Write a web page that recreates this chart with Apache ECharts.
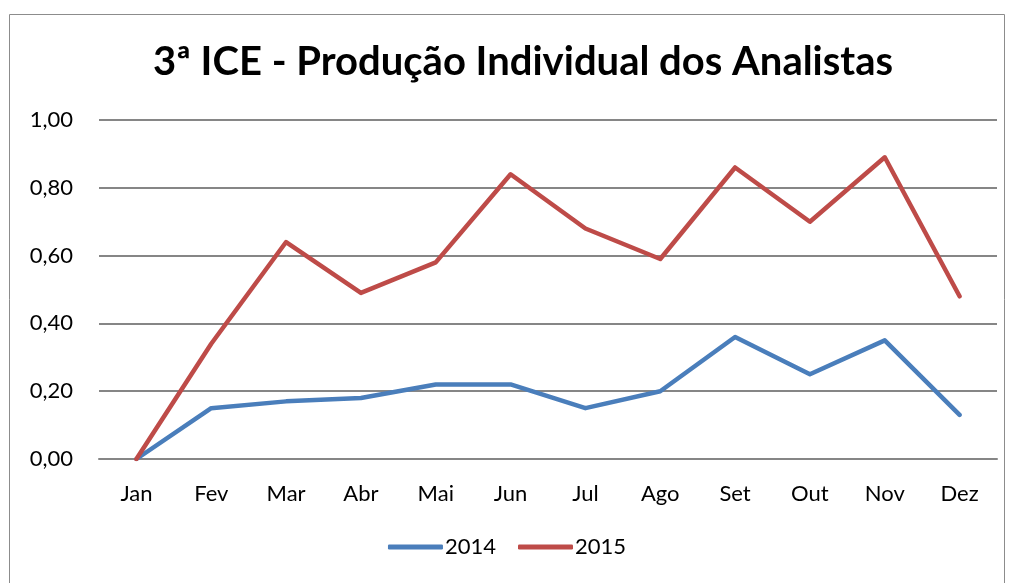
<!DOCTYPE html>
<html>
<head>
<meta charset="utf-8">
<script src="https://cdn.jsdelivr.net/npm/echarts@6/dist/echarts.min.js"></script>
<style>
  html, body { margin: 0; padding: 0; background: #fff; }
  #chart { width: 1014px; height: 583px; }
</style>
</head>
<body>
<div id="chart"></div>
<script>
// data
const months = ['Jan', 'Fev', 'Mar', 'Abr', 'Mai', 'Jun', 'Jul', 'Ago', 'Set', 'Out', 'Nov', 'Dez']
const values2014 = [0, 0.15, 0.17, 0.18, 0.22, 0.22, 0.15, 0.20, 0.36, 0.25, 0.35, 0.13]
const values2015 = [0, 0.34, 0.64, 0.49, 0.58, 0.84, 0.68, 0.59, 0.86, 0.70, 0.89, 0.48]
const seriesNames = ['2014', '2015']

const font = 'Lato, "Open Sans", sans-serif'

const chart = echarts.init(document.getElementById('chart'))

const option = {
  animation: false,
  color: ['#4A7EBB', '#BE4B48'],
  graphic: [
    {
      type: 'rect',
      shape: { x: 9.5, y: 14.5, width: 995, height: 620 },
      style: { fill: 'none', stroke: '#8c8c8c', lineWidth: 1 },
      silent: true
    }
  ],
  title: {
    text: '3ª ICE - Produção Individual dos Analistas',
    left: 148,
    top: 37,
    textStyle: { fontFamily: font, fontWeight: 'bold', fontSize: 40, color: '#000' }
  },
  legend: {
    data: seriesNames,
    bottom: 20,
    left: 'center',
    icon: 'roundRect',
    itemWidth: 55,
    itemHeight: 5,
    itemGap: 22,
    textStyle: { fontFamily: font, fontSize: 22, color: '#000', padding: [0, 0, 0, -3] }
  },
  grid: { left: 99, right: 17, top: 120, bottom: 124, containLabel: false },
  xAxis: {
    type: 'category',
    data: months,
    boundaryGap: true,
    axisLine: { lineStyle: { color: '#868686', width: 2 } },
    axisTick: { show: false },
    axisLabel: { fontFamily: font, fontSize: 22, color: '#000', margin: 24 }
  },
  yAxis: {
    type: 'value',
    min: 0,
    max: 1,
    interval: 0.2,
    axisLine: { show: false },
    axisTick: { show: false },
    splitLine: { lineStyle: { color: '#868686', width: 2 } },
    axisLabel: {
      fontFamily: font, fontSize: 22, color: '#000', margin: 26,
      formatter: v => v.toFixed(2).replace('.', ',')
    }
  },
  series: [
    {
      name: seriesNames[0],
      type: 'line',
      data: values2014,
      symbol: 'none',
      lineStyle: { width: 4.5, cap: 'round', join: 'round' }
    },
    {
      name: seriesNames[1],
      type: 'line',
      data: values2015,
      symbol: 'none',
      lineStyle: { width: 4.5, cap: 'round', join: 'round' }
    }
  ]
}

chart.setOption(option)
</script>
</body>
</html>
